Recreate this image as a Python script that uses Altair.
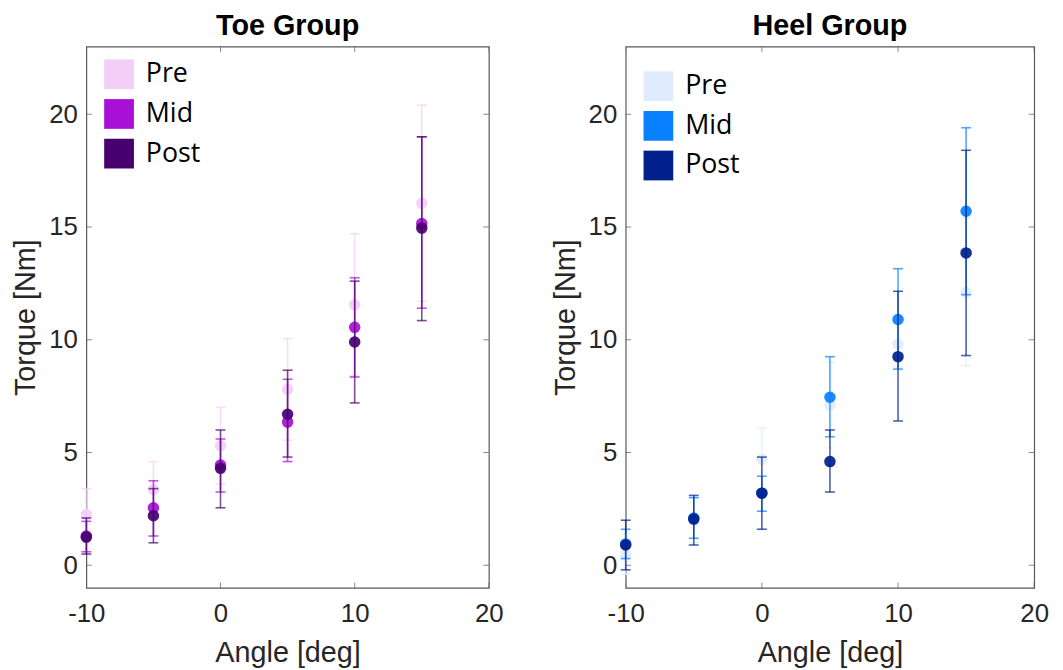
import altair as alt
import pandas as pd

# ---------------- data ----------------
angles = [-10, -5, 0, 5, 10, 15]
series_names = ["Pre", "Mid", "Post"]

toe_pre_mean = [2.25, 3.35, 5.3, 7.8, 11.55, 16.05]
toe_pre_lo = [1.0, 2.1, 3.6, 5.55, 8.4, 11.7]
toe_pre_hi = [3.4, 4.6, 7.0, 10.05, 14.7, 20.4]
toe_mid_mean = [1.3, 2.55, 4.45, 6.35, 10.55, 15.15]
toe_mid_lo = [0.6, 1.3, 3.25, 4.6, 8.35, 11.4]
toe_mid_hi = [1.95, 3.75, 5.6, 8.25, 12.75, 19.0]
toe_post_mean = [1.25, 2.2, 4.3, 6.7, 9.9, 14.95]
toe_post_lo = [0.5, 1.0, 2.55, 4.8, 7.2, 10.85]
toe_post_hi = [2.1, 3.4, 6.0, 8.65, 12.6, 19.0]

heel_pre_mean = [0.45, 2.0, 4.7, 7.1, 9.8, 12.1]
heel_pre_lo = [-0.4, 1.0, 3.3, 5.2, 8.8, 8.85]
heel_pre_hi = [1.4, 3.0, 6.1, 9.0, 11.0, 15.4]
heel_mid_mean = [0.95, 2.1, 3.2, 7.45, 10.9, 15.7]
heel_mid_lo = [0.3, 1.2, 2.4, 5.7, 8.7, 12.0]
heel_mid_hi = [1.6, 3.0, 3.95, 9.25, 13.15, 19.4]
heel_post_mean = [0.9, 2.05, 3.2, 4.6, 9.25, 13.85]
heel_post_lo = [-0.2, 0.9, 1.6, 3.25, 6.4, 9.3]
heel_post_hi = [2.0, 3.1, 4.8, 6.0, 12.15, 18.4]

toe_colors = ["#f3cff8", "#a910d6", "#47006e"]
heel_colors = ["#e0ecfd", "#0880ff", "#00208c"]

x_domain = [-10, 20]
y_domain = [-1, 23]
x_ticks = [-10, 0, 10, 20]
y_ticks = [0, 5, 10, 15, 20]

AXIS_FONT = "Liberation Sans"


def make_df(means, los, his):
    rows = []
    for name, m, lo, hi in zip(series_names, means, los, his):
        for a, mv, lv, hv in zip(angles, m, lo, hi):
            rows.append({"angle": a, "series": name, "mean": mv, "lo": lv, "hi": hv})
    return pd.DataFrame(rows)


toe_df = make_df([toe_pre_mean, toe_mid_mean, toe_post_mean],
                 [toe_pre_lo, toe_mid_lo, toe_post_lo],
                 [toe_pre_hi, toe_mid_hi, toe_post_hi])
heel_df = make_df([heel_pre_mean, heel_mid_mean, heel_post_mean],
                  [heel_pre_lo, heel_mid_lo, heel_post_lo],
                  [heel_pre_hi, heel_mid_hi, heel_post_hi])

ytick_df = pd.DataFrame([{"x": xe, "y": v} for xe in x_domain for v in y_ticks])
xtick_df = pd.DataFrame([{"x": v, "y": ye} for ye in y_domain for v in x_ticks])

xscale = alt.Scale(domain=x_domain, nice=False, zero=False)
yscale = alt.Scale(domain=y_domain, nice=False, zero=False)
xaxis = alt.Axis(values=x_ticks, grid=False, ticks=False, tickSize=0, domain=False,
                 labelPadding=13, titlePadding=12, labelFlush=False,
                 labelExpr="'' + datum.value")
yaxis = alt.Axis(values=y_ticks, grid=False, ticks=False, tickSize=0, domain=False,
                 labelPadding=9, titlePadding=8, labelExpr="'' + datum.value")


def xe(field):
    return alt.X(f"{field}:Q", scale=xscale, axis=xaxis, title="Angle [deg]")


def ye(field):
    return alt.Y(f"{field}:Q", scale=yscale, axis=yaxis, title="Torque [Nm]")


def panel(title, df, colors, width, legend_y):
    base = alt.Chart(df)
    legend = alt.Legend(title=None, orient="none", legendX=18, legendY=legend_y,
                        symbolType="square", symbolSize=900, symbolOpacity=1,
                        symbolStrokeWidth=0, labelFont="Open Sans", labelFontSize=27,
                        labelColor="black", labelOffset=12, rowPadding=10, padding=0)
    cscale = alt.Scale(domain=series_names, range=colors)
    layers = []
    for name, col in zip(series_names, colors):
        f = base.transform_filter(alt.datum.series == name)
        layers.append(f.mark_rule(strokeWidth=1.6, opacity=0.7, color=col).encode(
            x=xe("angle"), y=ye("lo"), y2="hi:Q"))
        layers.append(f.mark_tick(orient="horizontal", size=10, thickness=1.6,
                                  opacity=0.7, color=col).encode(x=xe("angle"), y=ye("lo")))
        layers.append(f.mark_tick(orient="horizontal", size=10, thickness=1.6,
                                  opacity=0.7, color=col).encode(x=xe("angle"), y=ye("hi")))
        layers.append(f.mark_circle(size=135, opacity=0.92).encode(
            x=xe("angle"), y=ye("mean"),
            color=alt.Color("series:N", scale=cscale, legend=legend)))
    # inward box ticks
    layers.append(alt.Chart(ytick_df).mark_tick(orient="horizontal", size=11, thickness=1,
                                                color="#595959", clip=True).encode(
        x=xe("x"), y=ye("y")))
    layers.append(alt.Chart(xtick_df).mark_tick(orient="vertical", size=11, thickness=1,
                                                color="#595959", clip=True).encode(
        x=xe("x"), y=ye("y")))
    return alt.layer(*layers).properties(
        width=width, height=546,
        title=alt.TitleParams(title, font=AXIS_FONT, fontSize=29, fontWeight="bold",
                              color="black", offset=6),
    )


left = panel("Toe Group", toe_df, toe_colors, 406, 13)
right = panel("Heel Group", heel_df, heel_colors, 412, 25)

chart = alt.hconcat(left, right, spacing=138, bounds="flush").resolve_scale(
    color="independent", x="independent", y="independent"
).resolve_legend(color="independent").properties(
    padding={"left": 3, "top": 0, "right": 5, "bottom": 5}
).configure_view(stroke="#595959", strokeWidth=1.2).configure_axis(
    labelFont=AXIS_FONT, labelFontSize=26, labelColor="#262626",
    titleFont=AXIS_FONT, titleFontSize=29, titleFontWeight="normal", titleColor="#262626",
)

chart.save("out.html", embed_options={"renderer": "svg", "actions": False})
